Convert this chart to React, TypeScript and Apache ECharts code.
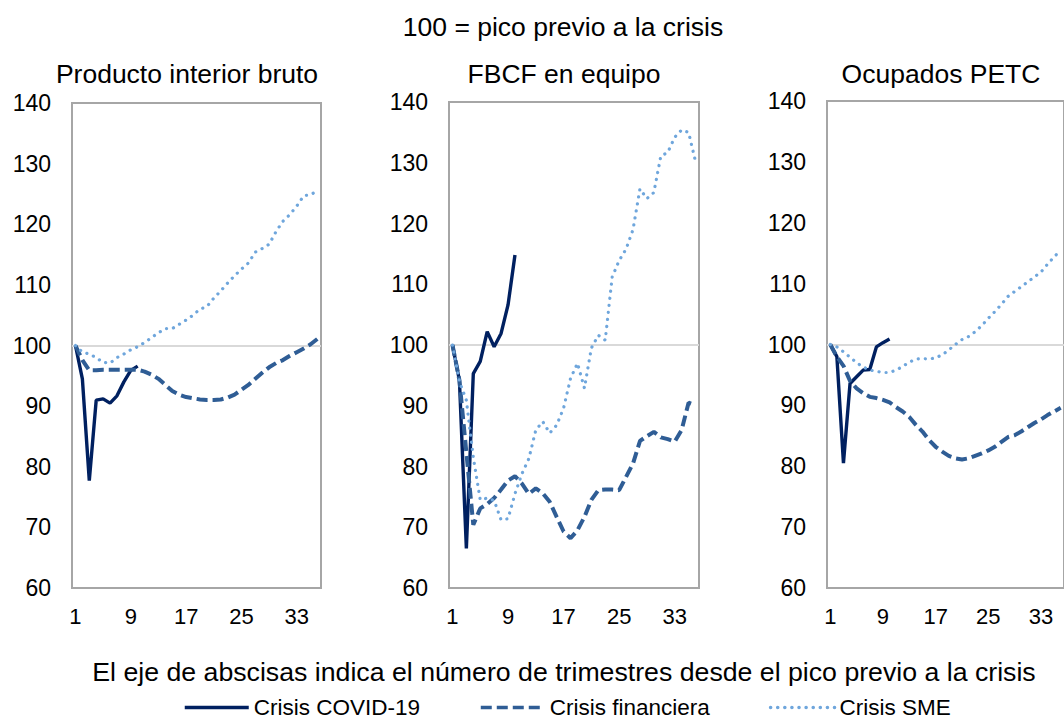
import React, { useEffect, useRef } from 'react';
import * as echarts from 'echarts';

const quarters = ['1','2','3','4','5','6','7','8','9','10','11','12','13','14','15','16','17','18','19','20','21','22','23','24','25','26','27','28','29','30','31','32','33','34','35','36'];

const panelTitles = ['Producto interior bruto', 'FBCF en equipo', 'Ocupados PETC'];
const seriesNames = ['Crisis COVID-19', 'Crisis financiera', 'Crisis SME'];

const pibCovid = [100, 94.5, 77.7, 91.0, 91.2, 90.5, 91.7, 94.0, 95.9, 96.6];
const pibFinanciera = [100, 97.6, 95.9, 95.9, 96.0, 96.0, 96.0, 96.0, 96.0, 96.0, 95.7, 95.2, 94.5, 93.5, 92.5, 91.9, 91.5, 91.3, 91.1, 91.0, 91.0, 91.1, 91.4, 91.9, 92.7, 93.5, 94.5, 95.5, 96.4, 97.1, 97.6, 98.3, 98.9, 99.5, 100.2, 101.1];
const pibSme = [100, 98.9, 98.6, 98.0, 97.2, 97.1, 98.0, 98.6, 99.3, 99.8, 100.5, 101.3, 102.1, 102.8, 102.8, 103.5, 104.2, 105.0, 106.0, 106.4, 107.8, 109.0, 110.3, 111.5, 112.6, 113.6, 115.4, 116.0, 116.7, 118.8, 120.5, 121.6, 123.0, 124.7, 124.9, 125.5];

const fbcfCovid = [100, 94.2, 66.5, 95.3, 97.3, 102.2, 99.7, 101.9, 106.6, 114.8];
const fbcfFinanciera = [100, 94.2, 82.3, 70.4, 73.1, 73.8, 74.8, 76.2, 77.7, 78.4, 77.2, 75.5, 76.4, 75.6, 74.2, 71.7, 69.3, 68.2, 69.5, 71.7, 74.5, 76.1, 76.2, 76.2, 76.1, 78.3, 80.5, 84.2, 85.0, 85.7, 84.8, 84.5, 84.1, 86.0, 90.5, 90.1];
const fbcfSme = [100, 94.0, 90.9, 81.5, 74.5, 74.8, 74.4, 71.2, 71.4, 75.5, 78.8, 81.3, 86.0, 87.4, 85.5, 86.8, 89.6, 94.5, 97.0, 92.9, 99.5, 101.6, 100.8, 111.2, 113.9, 115.8, 119.0, 125.7, 124.1, 125.1, 131.1, 131.7, 134.2, 135.4, 135.0, 130.2];

const ocupCovid = [100, 98.0, 80.5, 93.6, 94.7, 95.8, 95.9, 99.6, 100.3, 100.9];
const ocupFinanciera = [100, 98.0, 96.5, 94.0, 92.8, 92.0, 91.4, 91.2, 90.9, 90.5, 89.7, 89.0, 88.1, 86.8, 85.7, 84.3, 83.2, 82.4, 81.7, 81.3, 81.1, 81.3, 81.7, 82.1, 82.6, 83.2, 84.0, 84.8, 85.1, 85.7, 86.4, 87.1, 87.7, 88.4, 89.0, 89.6];
const ocupSme = [100, 99.6, 98.8, 97.9, 97.0, 96.3, 95.8, 95.6, 95.4, 95.4, 95.8, 96.4, 97.1, 97.6, 97.7, 97.6, 97.8, 98.3, 99.1, 100.0, 100.8, 101.3, 102.1, 103.1, 104.3, 105.4, 106.6, 107.9, 108.7, 109.5, 110.3, 111.1, 111.9, 113.2, 114.4, 115.5];

const yMin = 60;
const yMax = 140;
const yStep = 10;
const refValue = 100;

const FONT = "'Liberation Sans', Arial, sans-serif";
const C_COVID = '#002060';
const C_FIN = '#2f5d95';
const C_SME = '#6fa6dc';

export default function App() {
  const ref = useRef<HTMLDivElement>(null);

  useEffect(() => {
    document.body.style.margin = '0';
    const chart = echarts.init(ref.current!, undefined, { renderer: 'svg' });

    const grids = [
      { left: 72, top: 103, width: 249, height: 485 },
      { left: 449, top: 102, width: 250, height: 486 },
      { left: 827, top: 101, width: 250, height: 487 },
    ];
    const data = [
      [pibCovid, pibFinanciera, pibSme],
      [fbcfCovid, fbcfFinanciera, fbcfSme],
      [ocupCovid, ocupFinanciera, ocupSme],
    ];
    const titleX = [187, 564, 941];

    const series: any[] = [];
    data.forEach((set, gi) => {
      series.push({
        name: seriesNames[0],
        type: 'line',
        xAxisIndex: gi,
        yAxisIndex: gi,
        data: set[0],
        symbol: 'none',
        lineStyle: { color: C_COVID, width: 3.4, type: 'solid' },
        itemStyle: { color: C_COVID },
        z: 3,
        markLine: {
          silent: true,
          symbol: 'none',
          z: 1,
          label: { show: false },
          lineStyle: { color: '#d9d9d9', width: 2, type: 'solid' },
          data: [{ yAxis: refValue }],
        },
      });
      series.push({
        name: seriesNames[1],
        type: 'line',
        xAxisIndex: gi,
        yAxisIndex: gi,
        data: set[1],
        symbol: 'none',
        lineStyle: { color: C_FIN, width: 4, type: [11, 5] },
        itemStyle: { color: C_FIN },
        z: 4,
      });
      series.push({
        name: seriesNames[2],
        type: 'line',
        xAxisIndex: gi,
        yAxisIndex: gi,
        data: set[2],
        symbol: 'none',
        lineStyle: { color: C_SME, width: 3.2, type: [0.1, 7], cap: 'round' },
        itemStyle: { color: C_SME },
        z: 5,
      });
    });

    chart.setOption({
      animation: false,
      textStyle: { fontFamily: FONT, color: '#000' },
      grid: grids.map((g) => ({
        ...g,
        show: true,
        borderColor: '#a6a6a6',
        borderWidth: 2,
        backgroundColor: 'transparent',
        containLabel: false,
      })),
      xAxis: grids.map((_, i) => ({
        type: 'category',
        gridIndex: i,
        data: quarters,
        boundaryGap: true,
        axisLine: { show: false },
        axisTick: { show: false },
        splitLine: { show: false },
        axisLabel: { interval: 7, color: '#000', fontSize: 22, fontFamily: FONT, margin: 17 },
      })),
      yAxis: grids.map((_, i) => ({
        type: 'value',
        gridIndex: i,
        min: yMin,
        max: yMax,
        interval: yStep,
        axisLine: { show: false },
        axisTick: { show: false },
        splitLine: { show: false },
        axisLabel: { color: '#000', fontSize: 23, fontFamily: FONT, margin: 21 },
      })),
      legend: {
        data: seriesNames,
        left: 178,
        top: 691,
        itemWidth: 64,
        itemHeight: 14,
        itemGap: 59,
        itemStyle: { opacity: 0 },
        lineStyle: { width: 3.5 },
        textStyle: { fontSize: 22.5, fontFamily: FONT, color: '#000', lineHeight: 22 },
      },
      graphic: [
        {
          type: 'text',
          x: 563,
          y: 27,
          style: { text: '100 = pico previo a la crisis', fontSize: 26.5, fontFamily: FONT, fill: '#000', align: 'center', verticalAlign: 'middle' },
        },
        ...panelTitles.map((t, i) => ({
          type: 'text',
          x: titleX[i],
          y: 74,
          style: { text: t, fontSize: 26.5, fontFamily: FONT, fill: '#000', align: 'center', verticalAlign: 'middle' },
        })),
        {
          type: 'text',
          x: 564,
          y: 672,
          style: {
            text: 'El eje de abscisas indica el número de trimestres desde el pico previo a la crisis',
            fontSize: 26.7,
            fontFamily: FONT,
            fill: '#000',
            align: 'center',
            verticalAlign: 'middle',
          },
        },
      ],
      series,
    });

    return () => chart.dispose();
  }, []);

  return <div ref={ref} style={{ width: 1064, height: 719 }} />;
}
